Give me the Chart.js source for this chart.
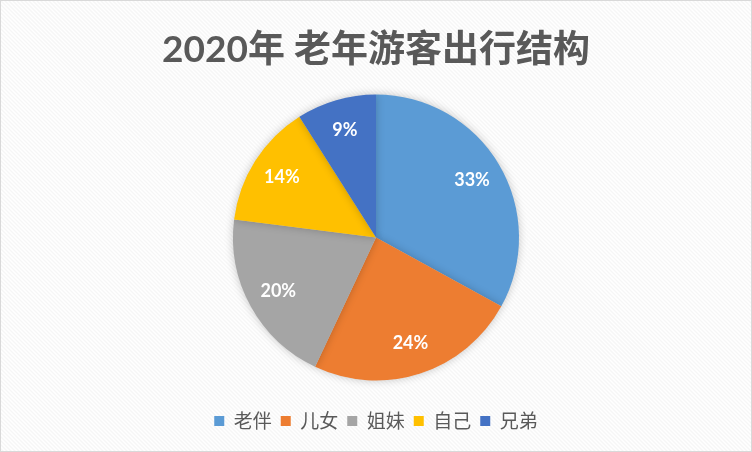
<!DOCTYPE html>
<html><head><meta charset="utf-8">
<script src="https://cdn.jsdelivr.net/npm/chart.js@4"></script>
<style>html,body{margin:0;padding:0;background:#fff}#wrap{width:752px;height:452px}</style>
</head><body><div id="wrap"><canvas id="c" width="752" height="452"></canvas></div>
<script>
const categories = ['老伴','儿女','姐妹','自己','兄弟'];
const shares = [33, 24, 20, 14, 9];
const colors = ['#5B9BD5','#ED7D31','#A5A5A5','#FFC000','#4472C4'];
const titleText = '2020年 老年游客出行结构';

const bgPlugin = {
  id:'bg',
  beforeDraw(chart){
    const ctx = chart.ctx, w = chart.width, h = chart.height;
    ctx.save();
    ctx.fillStyle = '#ffffff';
    ctx.fillRect(0,0,w,h);
    ctx.strokeStyle = 'rgba(0,0,0,0.035)';
    ctx.lineWidth = 1.5;
    ctx.beginPath();
    for (let k = -h; k < w + h; k += 4){
      ctx.moveTo(k, 0); ctx.lineTo(k + h, h);
    }
    ctx.stroke();
    ctx.strokeStyle = '#D9D9D9';
    ctx.lineWidth = 1;
    ctx.strokeRect(0.5,0.5,w-1,h-1);
    ctx.restore();
  }
};
const shadowPlugin = {
  id:'shadow',
  beforeDatasetsDraw(chart){
    const ctx = chart.ctx;
    ctx.save();
    ctx.shadowColor = 'rgba(0,0,0,0.22)';
    ctx.shadowBlur = 8;
  },
  afterDatasetsDraw(chart){
    chart.ctx.restore();
    const ctx = chart.ctx;
    const meta = chart.getDatasetMeta(0);
    ctx.save();
    ctx.fillStyle = '#ffffff';
    ctx.font = 'bold 18px Lato, "Noto Sans CJK SC", sans-serif';
    ctx.textAlign = 'center';
    ctx.textBaseline = 'middle';
    meta.data.forEach((arc, i) => {
      const p = arc.getProps(['x','y','startAngle','endAngle','outerRadius']);
      const mid = (p.startAngle + p.endAngle)/2;
      const d = p.outerRadius * 0.78;
      ctx.fillText(shares[i] + '%', p.x + Math.cos(mid)*d, p.y + Math.sin(mid)*d);
    });
    ctx.restore();
  }
};

new Chart(document.getElementById('c'), {
  type:'pie',
  data:{ labels: categories, datasets:[{ data: shares, backgroundColor: colors, borderWidth:0, hoverOffset:0 }] },
  options:{
    responsive:false, animation:false, devicePixelRatio:1,
    radius:143,
    layout:{ padding:{ bottom:11.5 } },
    plugins:{
      tooltip:{enabled:false},
      title:{ display:true, text:titleText, color:'#595959',
        font:{ family:'Lato, "Noto Sans CJK SC", sans-serif', size:37, weight:'bold', lineHeight:1.2 },
        padding:{ top:28, bottom:0 } },
      legend:{ position:'bottom',
        labels:{ color:'#595959', boxWidth:10, boxHeight:10, padding:9,
          font:{ family:'"Noto Sans CJK SC", sans-serif', size:19 } } }
    }
  },
  plugins:[bgPlugin, shadowPlugin]
});
</script></body></html>
